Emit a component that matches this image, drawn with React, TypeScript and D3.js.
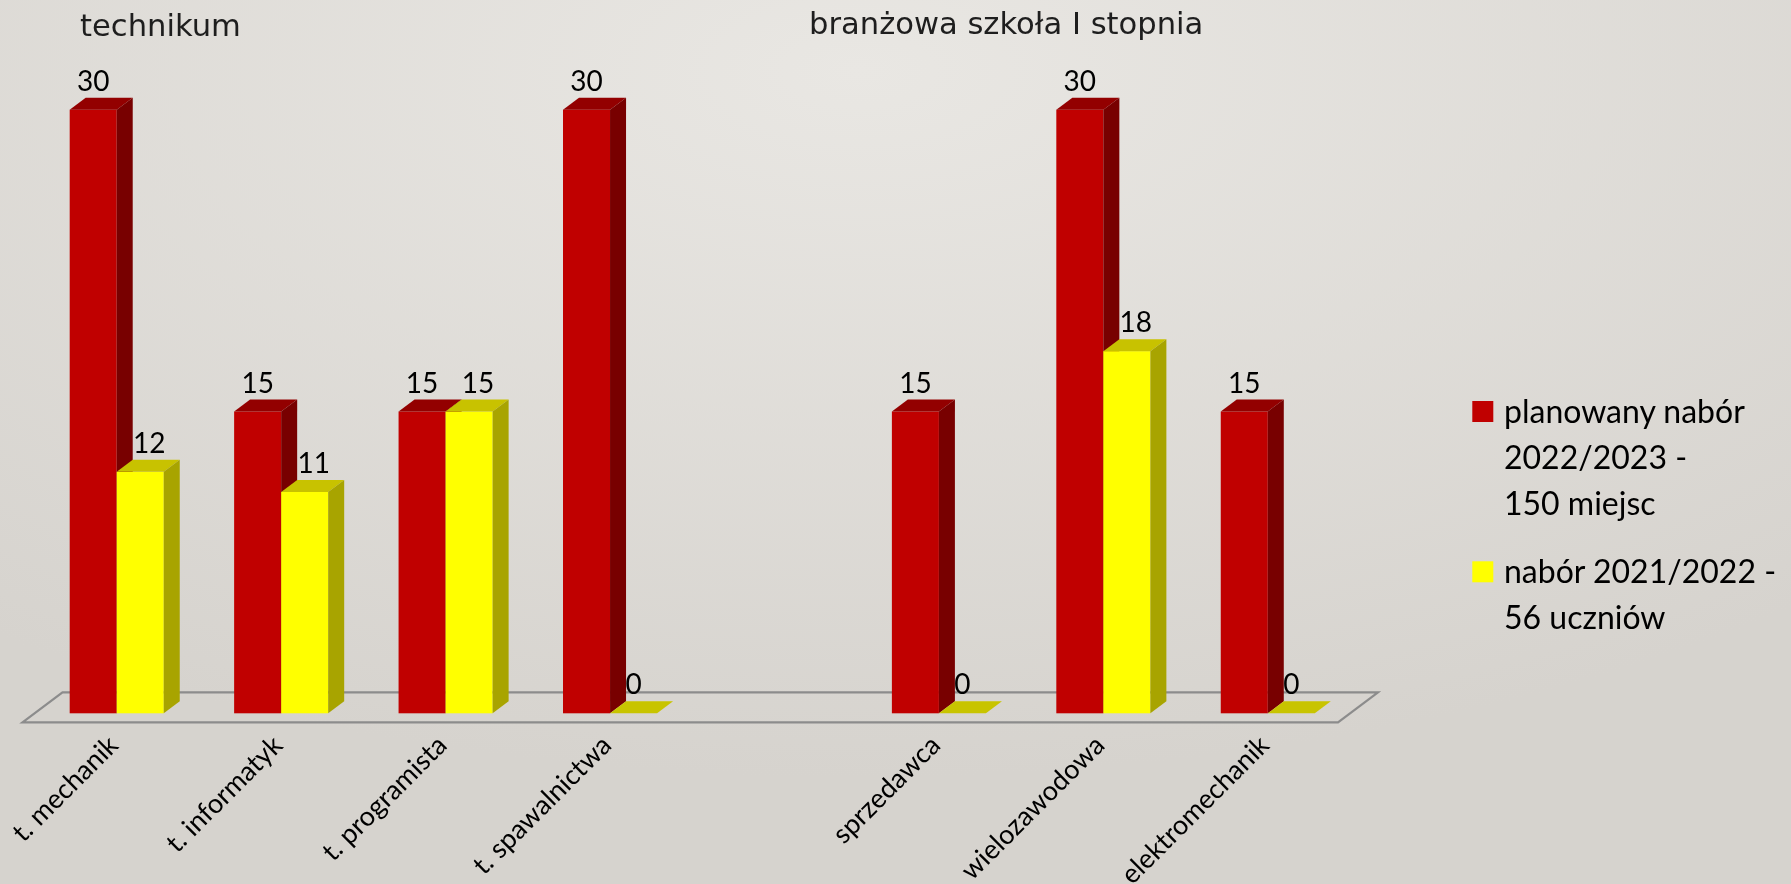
import React from "react";
import * as d3 from "d3";

// ---- data ----
const groupTitles = ["technikum", "branżowa szkoła I stopnia"];
const technikumCategories = ["t. mechanik", "t. informatyk", "t. programista", "t. spawalnictwa"];
const branzowaCategories = ["sprzedawca", "wielozawodowa", "elektromechanik"];
const plannedValues = [30, 15, 15, 30, 15, 30, 15]; // planowany nabór 2022/2023
const previousValues = [12, 11, 15, 0, 0, 18, 0]; // nabór 2021/2022
const seriesKeys = ["planned", "previous"];
const legendLines = [
  ["planowany nabór", "2022/2023 -", "150 miejsc"],
  ["nabór 2021/2022 -", "56 uczniów"],
];

const W = 1791;
const H = 884;
const GAP = "__gap__";

const colors: Record<string, { front: string; top: string; side: string; flat: string }> = {
  planned: { front: "#c00000", top: "#930000", side: "#780000", flat: "#930000" },
  previous: { front: "#ffff00", top: "#c8c200", side: "#a8a400", flat: "#c8c400" },
};

export default function App() {
  const categories = [...technikumCategories, ...branzowaCategories];
  const slots = [...technikumCategories, GAP, ...branzowaCategories];

  const floorLeft = 22.5;
  const floorRight = 1338;
  const floorFrontY = 722.3;
  const depthX = 40;
  const depthY = -30;
  const dStart = 0.3;
  const dEnd = 0.7;

  const x = d3
    .scaleBand<string>()
    .domain(slots)
    .range([floorLeft, floorRight])
    .paddingInner(0.428)
    .paddingOuter(0.214);
  const xs = d3.scaleBand<string>().domain(seriesKeys).range([0, x.bandwidth()]);

  const baseY = floorFrontY + depthY * dStart;
  const y = d3.scaleLinear().domain([0, 30]).range([baseY, baseY - 30 * 20.12]);

  const offX = depthX * dStart;
  const bdx = depthX * (dEnd - dStart);
  const bdy = depthY * (dEnd - dStart);

  const bars: React.ReactNode[] = [];
  const labels: React.ReactNode[] = [];
  categories.forEach((cat, i) => {
    const vals: Record<string, number> = { planned: plannedValues[i], previous: previousValues[i] };
    seriesKeys.forEach((k) => {
      const v = vals[k];
      const x0 = (x(cat) as number) + (xs(k) as number) + offX;
      const w = xs.bandwidth();
      const yt = y(v);
      const yb = y(0);
      const c = colors[k];
      const top = `${x0},${yt} ${x0 + bdx},${yt + bdy} ${x0 + w + bdx},${yt + bdy} ${x0 + w},${yt}`;
      if (v > 0) {
        bars.push(
          <g key={`${cat}-${k}`}>
            <rect x={x0} y={yt} width={w} height={yb - yt} fill={c.front} />
            <polygon points={top} fill={c.top} />
            <polygon
              points={`${x0 + w},${yt} ${x0 + w + bdx},${yt + bdy} ${x0 + w + bdx},${yb + bdy} ${x0 + w},${yb}`}
              fill={c.side}
            />
          </g>
        );
      } else {
        bars.push(<polygon key={`${cat}-${k}`} points={top} fill={c.flat} />);
      }
      const shift = k === "previous" && v > 0 ? 9 : 0;
      labels.push(
        <text
          key={`lab-${cat}-${k}`}
          x={x0 + w / 2 + shift}
          y={yt + bdy - 7}
          textAnchor="middle"
          fontFamily="Lato, 'Open Sans', sans-serif"
          fontSize={28}
          fill="#000"
        >
          {v}
        </text>
      );
    });
  });

  const floor = `${floorLeft},${floorFrontY} ${floorRight},${floorFrontY} ${floorRight + depthX},${floorFrontY + depthY} ${floorLeft + depthX},${floorFrontY + depthY}`;

  return (
    <div style={{ position: "fixed", left: 0, top: 0, width: W, height: H, overflow: "hidden" }}>
      <svg width={W} height={H} viewBox={`0 0 ${W} ${H}`} style={{ display: "block" }}>
        <defs>
          <radialGradient id="bg" cx="48%" cy="8%" r="80%">
            <stop offset="0%" stopColor="#e9e7e3" />
            <stop offset="100%" stopColor="#d6d3ce" />
          </radialGradient>
        </defs>
        <rect x={0} y={0} width={W} height={H} fill="url(#bg)" />

        <text x={80} y={36} fontFamily="'DejaVu Sans', sans-serif" fontSize={30.6} fill="#1e1e1e">
          {groupTitles[0]}
        </text>
        <text x={809} y={34} fontFamily="'DejaVu Sans', sans-serif" fontSize={30.6} fill="#1e1e1e">
          {groupTitles[1]}
        </text>

        <polygon points={floor} fill="none" stroke="#8c8c8c" strokeWidth={2.2} />
        {bars}
        {labels}

        {categories.map((cat) => {
          const cx = (x(cat) as number) + x.bandwidth() / 2 + 15;
          const cy = 747;
          return (
            <text
              key={`cat-${cat}`}
              x={cx}
              y={cy}
              transform={`rotate(-45 ${cx} ${cy})`}
              textAnchor="end"
              fontFamily="Lato, 'Open Sans', sans-serif"
              fontSize={27}
              fill="#000"
            >
              {cat}
            </text>
          );
        })}

        {legendLines.map((lines, li) => {
          const top = li === 0 ? 423 : 583.3;
          return (
            <g key={`leg-${li}`}>
              <rect x={1472.3} y={top - 22} width={21} height={21} fill={colors[seriesKeys[li]].front} />
              {lines.map((t, j) => (
                <text
                  key={j}
                  x={1504}
                  y={top + j * 45.8}
                  fontFamily="Lato, 'Open Sans', sans-serif"
                  fontSize={32}
                  fill="#000"
                >
                  {t}
                </text>
              ))}
            </g>
          );
        })}
      </svg>
    </div>
  );
}
